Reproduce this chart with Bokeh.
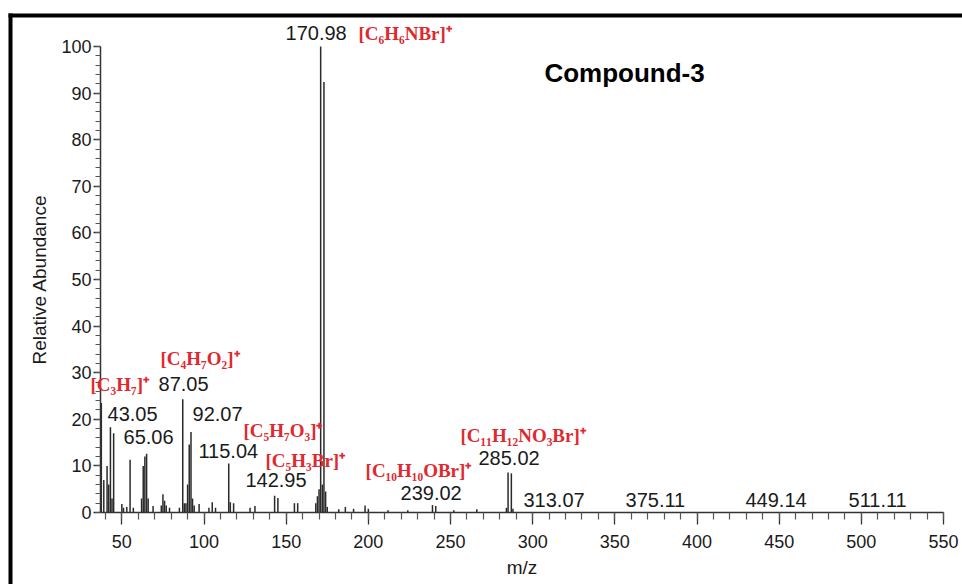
from bokeh.plotting import figure
from bokeh.models import Label, Range1d, FixedTicker, ColumnDataSource, BoxAnnotation
from bokeh.embed import file_html
from bokeh.resources import INLINE

# ---- data ----
mz = [37.5, 39, 41, 42, 43.05, 44, 45, 50, 51, 53, 55, 57, 62, 63, 64, 65.06, 66,
      69, 74, 75, 76, 77, 79, 85, 87.05, 88, 89, 90, 91, 92.07, 93, 94, 97, 103,
      105, 107, 115.04, 116, 118, 128, 131, 142.95, 144.95, 155, 157, 168, 169,
      170, 170.98, 172, 172.98, 174, 175, 182, 186, 191, 198, 200, 212, 224,
      239.02, 241, 252, 266, 284, 285.02, 287.02, 288]
abund = [23.5, 7, 10, 6, 18.3, 3, 17, 1.8, 1, 1.2, 11.3, 1, 3, 10, 12, 12.6, 3,
         1.4, 1.5, 3.9, 2.5, 1.5, 1, 1, 24.3, 2, 2, 6, 14.6, 17.3, 3, 1.5, 1.8, 1,
         2.2, 1, 10.5, 2.2, 2, 1, 1.4, 3.6, 3.1, 2, 2, 2, 3.5,
         5, 100, 6, 92.4, 4.5, 1.2, 0.7, 1.2, 0.8, 1.5, 0.8, 0.5, 0.5,
         1.6, 1.4, 0.5, 0.7, 1, 8.6, 8.4, 0.8]

x_ticks = [50, 100, 150, 200, 250, 300, 350, 400, 450, 500, 550]
y_ticks = [0, 10, 20, 30, 40, 50, 60, 70, 80, 90, 100]

mass_labels = ["170.98", "87.05", "43.05", "65.06", "92.07", "115.04", "142.95",
               "239.02", "285.02", "313.07", "375.11", "449.14", "511.11"]
ion_labels = ["[C\u2086H\u2086NBr]\u207a", "[C\u2084H\u2087O\u2082]\u207a", "[C\u2083H\u2087]\u207a",
              "[C\u2085H\u2087O\u2083]\u207a", "[C\u2085H\u2083Br]\u207a",
              "[C\u2081\u2080H\u2081\u2080OBr]\u207a", "[C\u2081\u2081H\u2081\u2082NO\u2083Br]\u207a"]

# label anchor positions (left edge, vertical middle) in data units
mass_pos = [(149.6, 102.8), (72.3, 27.5), (41.3, 21.2), (51.0, 16.3), (93.0, 21.2),
            (96.6, 13.3), (125.2, 6.9), (219.6, 4.1), (267.0, 11.6), (294.4, 2.6),
            (356.5, 2.6), (429.5, 2.6), (492.2, 2.6)]
ion_pos = [(194.0, 102.8), (73.5, 33.0), (30.9, 27.5), (124.0, 17.6), (137.4, 11.2),
           (198.3, 9.0), (256.1, 16.5)]

# ---- geometry: the frame fills the canvas, axes sit at fixed data locations ----
W, H = 962, 584
X0, X1 = 37.0, 550.0          # m/z extent of the drawn x axis
SX = 843.0 / (X1 - X0)        # px per m/z unit
SY = 4.66                     # px per % unit
AX_LEFT, AX_BOTTOM = 100.0, 512.0   # axis corner in canvas px
xr = Range1d(X0 - AX_LEFT / SX, X0 + (W - AX_LEFT) / SX)
yr = Range1d(-(H - AX_BOTTOM) / SY, AX_BOTTOM / SY)

src = ColumnDataSource(dict(mz=mz, ab=abund, base=[0] * len(mz)))

p = figure(width=W, height=H, output_backend="svg", toolbar_location=None,
           x_range=xr, y_range=yr,
           min_border_left=0, min_border_right=0, min_border_top=0,
           min_border_bottom=0)
p.outline_line_color = None
p.grid.grid_line_color = None
p.background_fill_color = "white"
p.border_fill_color = "white"

# black frame lines (left and top) of the original figure
p.add_layout(BoxAnnotation(left=xr.start + 8 / SX, right=xr.start + 12 / SX,
                           top=yr.end - 13 / SY,
                           fill_color="black", fill_alpha=1, line_color=None))
p.add_layout(BoxAnnotation(left=xr.start + 8 / SX,
                           top=yr.end - 13 / SY, bottom=yr.end - 17 / SY,
                           fill_color="black", fill_alpha=1, line_color=None))

p.segment(x0="mz", y0="base", x1="mz", y1="ab", source=src,
          line_color="#2a2a2a", line_width=1.5)

axis_font = "Liberation Sans"
xa = p.xaxis[0]
xa.fixed_location = 0
xa.bounds = (X0, X1)
xa.ticker = FixedTicker(ticks=x_ticks, minor_ticks=list(range(40, 551, 10)))
xa.axis_label = "m/z"
xa.axis_label_text_font = axis_font
xa.axis_label_text_font_size = "19px"
xa.axis_label_text_font_style = "normal"
xa.axis_label_standoff = 6
xa.major_label_text_font = axis_font
xa.major_label_text_font_size = "18px"
xa.major_label_standoff = 10
xa.major_tick_out = 12
xa.major_tick_in = 0
xa.minor_tick_out = 7
xa.minor_tick_in = 0

ya = p.yaxis[0]
ya.fixed_location = X0
ya.bounds = (0, 100)
ya.ticker = FixedTicker(ticks=y_ticks, minor_ticks=list(range(0, 101, 2)))
ya.axis_label = "Relative Abundance"
ya.axis_label_text_font = axis_font
ya.axis_label_text_font_size = "19px"
ya.axis_label_text_font_style = "normal"
ya.axis_label_standoff = 8
ya.major_label_text_font = axis_font
ya.major_label_text_font_size = "18px"
ya.major_label_standoff = 2
ya.major_tick_out = 7
ya.major_tick_in = 0
ya.minor_tick_out = 5
ya.minor_tick_in = 0

for a in (xa, ya):
    a.axis_line_color = "#333333"
    a.axis_line_width = 1.5
    a.major_tick_line_color = "#333333"
    a.minor_tick_line_color = "#555555"
    a.major_tick_line_width = 1.3
    a.minor_tick_line_width = 1.2
    a.major_label_text_color = "#1a1a1a"
    a.axis_label_text_color = "#1a1a1a"

for t, (x, y) in zip(mass_labels, mass_pos):
    p.add_layout(Label(x=x, y=y, text=t, text_font=axis_font, text_font_size="20px",
                       text_color="#1a1a1a", text_align="left", text_baseline="middle"))
for t, (x, y) in zip(ion_labels, ion_pos):
    p.add_layout(Label(x=x, y=y, text=t, text_font="Liberation Serif",
                       text_font_style="bold", text_font_size="19px",
                       text_color="#e0282e", text_align="left", text_baseline="middle"))

p.add_layout(Label(x=355.9, y=94.4, text="Compound-3", text_font=axis_font,
                   text_font_style="bold", text_font_size="26px", text_color="black",
                   text_align="center", text_baseline="middle"))

open("out.html", "w").write(file_html(p, INLINE))
